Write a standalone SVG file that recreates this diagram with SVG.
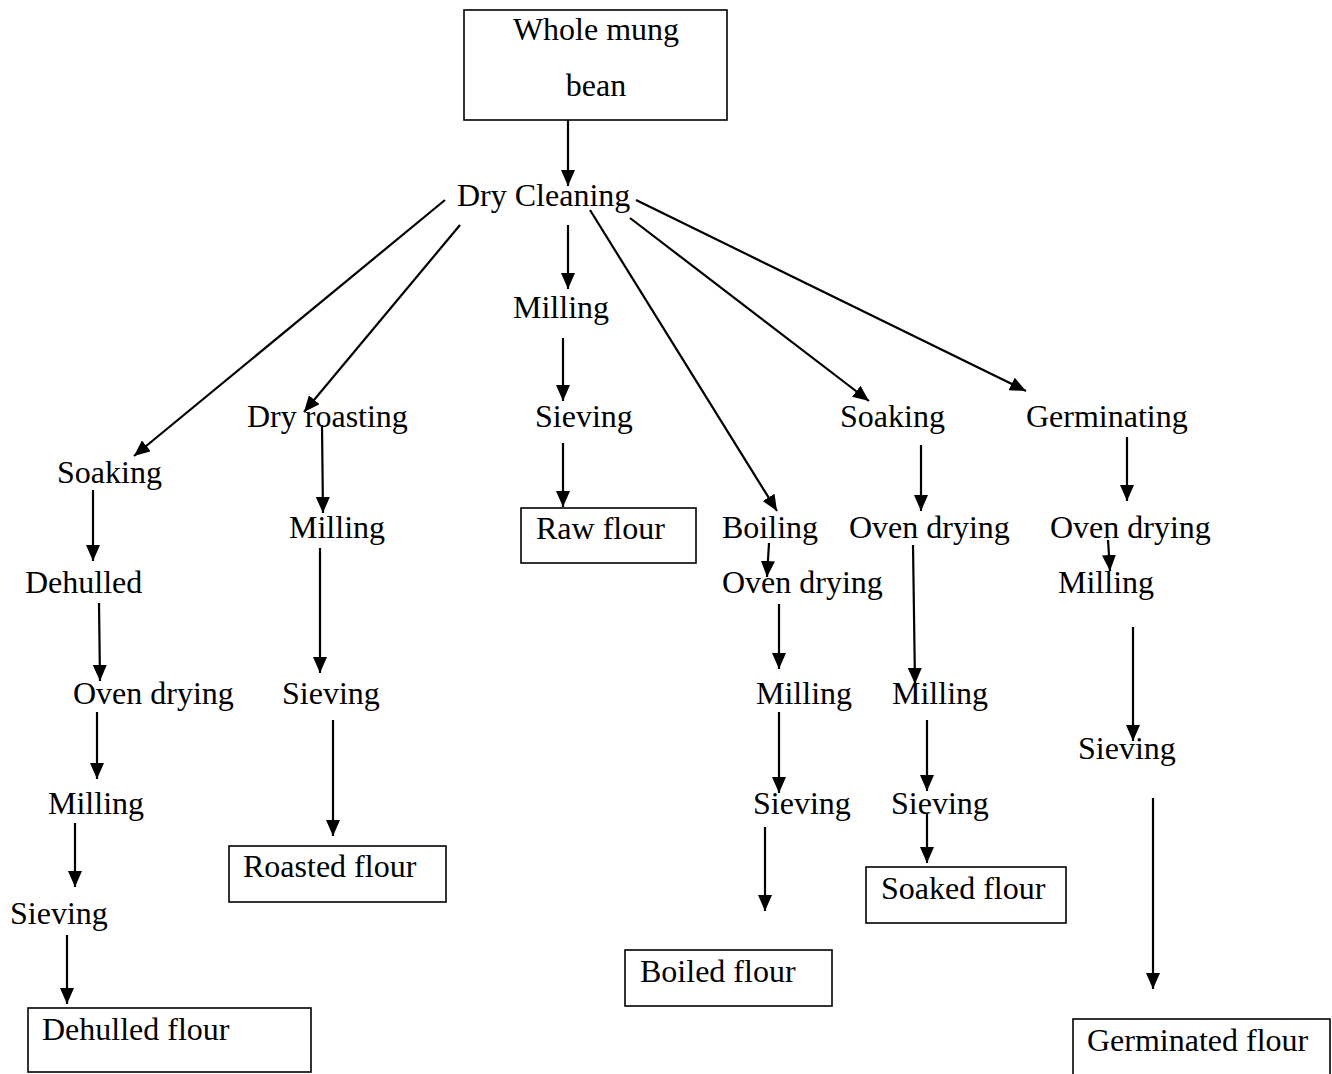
<svg xmlns="http://www.w3.org/2000/svg" width="1332" height="1074" viewBox="0 0 1332 1074">
<style>
text{font-family:"Liberation Serif","Times New Roman",serif;font-size:32px;fill:#000}
.box{fill:#fff;stroke:#000;stroke-width:1.6}
.c line{stroke:#000;stroke-width:2.2;marker-end:url(#ah)}
</style>
<defs>
<marker id="ah" markerUnits="userSpaceOnUse" markerWidth="16" markerHeight="14" refX="16" refY="7" orient="auto">
<path d="M0,0 L16,7 L0,14 z" fill="#000"/>
</marker>
</defs>
<rect width="1332" height="1074" fill="#fff"/>
<g id="n-whole"><rect class="box" x="464" y="10" width="263" height="110"/><text x="596" y="40" text-anchor="middle">Whole mung</text><text x="596" y="96" text-anchor="middle">bean</text></g>
<g id="n-dryclean"><text x="457" y="206">Dry Cleaning</text></g>
<g id="n-soak1"><text x="57" y="483">Soaking</text></g>
<g id="n-dehulled"><text x="25" y="593">Dehulled</text></g>
<g id="n-oven1"><text x="73" y="704">Oven drying</text></g>
<g id="n-mill1"><text x="48" y="814">Milling</text></g>
<g id="n-sieve1"><text x="10" y="924">Sieving</text></g>
<g id="n-dehulledflour"><rect class="box" x="28" y="1008" width="283" height="64"/><text x="42" y="1040">Dehulled flour</text></g>
<g id="n-roast"><text x="247" y="427">Dry roasting</text></g>
<g id="n-mill2"><text x="289" y="538">Milling</text></g>
<g id="n-sieve2"><text x="282" y="704">Sieving</text></g>
<g id="n-roastedflour"><rect class="box" x="229" y="846" width="217" height="56"/><text x="243" y="877">Roasted flour</text></g>
<g id="n-mill3"><text x="513" y="318">Milling</text></g>
<g id="n-sieve3"><text x="535" y="427">Sieving</text></g>
<g id="n-rawflour"><rect class="box" x="521" y="508" width="175" height="55"/><text x="536" y="539">Raw flour</text></g>
<g id="n-boil"><text x="722" y="538">Boiling</text></g>
<g id="n-oven4"><text x="722" y="593">Oven drying</text></g>
<g id="n-mill4"><text x="756" y="704">Milling</text></g>
<g id="n-sieve4"><text x="753" y="814">Sieving</text></g>
<g id="n-boiledflour"><rect class="box" x="625" y="950" width="207" height="56"/><text x="640" y="982">Boiled flour</text></g>
<g id="n-soak5"><text x="840" y="427">Soaking</text></g>
<g id="n-oven5"><text x="849" y="538">Oven drying</text></g>
<g id="n-mill5"><text x="892" y="704">Milling</text></g>
<g id="n-sieve5"><text x="891" y="814">Sieving</text></g>
<g id="n-soakedflour"><rect class="box" x="866" y="867" width="200" height="56"/><text x="881" y="899">Soaked flour</text></g>
<g id="n-germ"><text x="1026" y="427">Germinating</text></g>
<g id="n-oven6"><text x="1050" y="538">Oven drying</text></g>
<g id="n-mill6"><text x="1058" y="593">Milling</text></g>
<g id="n-sieve6"><text x="1078" y="759">Sieving</text></g>
<g id="n-germflour"><rect class="box" x="1073" y="1019" width="257" height="60"/><text x="1087" y="1051">Germinated flour</text></g>
<g id="connectors" class="c">
<line x1="568" y1="120" x2="568" y2="186"/>
<line x1="445" y1="200" x2="134" y2="456"/>
<line x1="460" y1="225" x2="304" y2="412"/>
<line x1="568" y1="225" x2="568" y2="289"/>
<line x1="590" y1="210" x2="777" y2="511"/>
<line x1="630" y1="218" x2="869" y2="401"/>
<line x1="636" y1="200" x2="1026" y2="391"/>
<line x1="93" y1="490" x2="93" y2="561"/>
<line x1="99" y1="603" x2="100" y2="681"/>
<line x1="97" y1="712" x2="97" y2="779"/>
<line x1="75" y1="823" x2="75" y2="887"/>
<line x1="67" y1="935" x2="67" y2="1004"/>
<line x1="322" y1="425" x2="323" y2="513"/>
<line x1="320" y1="548" x2="320" y2="673"/>
<line x1="333" y1="720" x2="333" y2="836"/>
<line x1="563" y1="338" x2="563" y2="401"/>
<line x1="563" y1="443" x2="563" y2="507"/>
<line x1="769" y1="543" x2="767" y2="577"/>
<line x1="779" y1="604" x2="779" y2="669"/>
<line x1="779" y1="712" x2="779" y2="793"/>
<line x1="765" y1="827" x2="765" y2="911"/>
<line x1="921" y1="445" x2="921" y2="511"/>
<line x1="913" y1="545" x2="915" y2="684"/>
<line x1="927" y1="720" x2="927" y2="791"/>
<line x1="927" y1="813" x2="927" y2="863"/>
<line x1="1127" y1="437" x2="1127" y2="501"/>
<line x1="1108" y1="540" x2="1110" y2="571"/>
<line x1="1133" y1="627" x2="1133" y2="741"/>
<line x1="1153" y1="798" x2="1153" y2="989"/>
</g>
</svg>
